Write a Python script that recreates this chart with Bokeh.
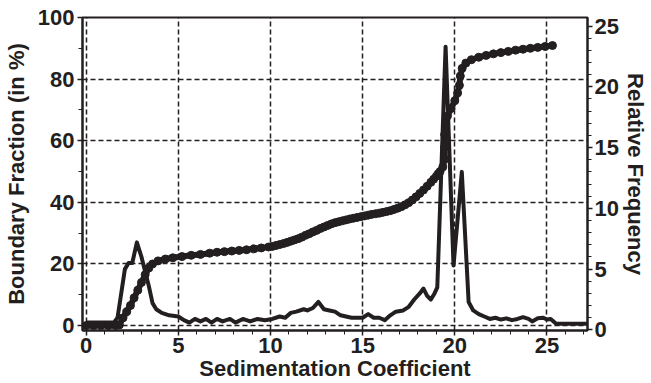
from bokeh.plotting import figure
from bokeh.models import Range1d, LinearAxis, FixedTicker
from bokeh.embed import file_html
from bokeh.resources import INLINE

# Boundary fraction (left axis, %)
bf_x = [0.0, 0.4, 0.8, 1.2, 1.6, 1.8, 2.0, 2.2, 2.4, 2.6, 2.8, 3.0, 3.2, 3.4, 3.6, 3.9,
        4.3, 4.7, 5.2, 5.7, 6.2, 6.7, 7.1, 7.5, 7.9, 8.3, 8.7, 9.1, 9.5, 9.9, 10.1, 10.3,
        10.5, 10.7, 10.9, 11.1, 11.3, 11.5, 11.7, 11.9, 12.1, 12.3, 12.5, 12.7, 12.9, 13.1,
        13.3, 13.5, 13.7, 13.9, 14.1, 14.3, 14.5, 14.7, 14.9, 15.1, 15.3, 15.5, 15.7, 15.9,
        16.1, 16.3, 16.5, 16.7, 16.9, 17.1, 17.3, 17.5, 17.7, 17.9, 18.1, 18.3, 18.5, 18.7,
        18.85, 19.0, 19.1, 19.2, 19.35, 19.45, 19.45, 19.45, 19.5, 19.6, 19.8, 20.0, 20.15,
        20.25, 20.3, 20.4, 20.6, 20.9, 21.3, 21.7, 22.1, 22.5, 22.9, 23.3, 23.7, 24.1, 24.5,
        24.9, 25.3]
bf_y = [0.0, 0.0, 0.0, 0.0, 0.0, 0.2, 2.5, 4.5, 6.5, 9.0, 11.5, 14.0, 16.5, 18.7, 20.0, 21.0,
        21.6, 22.0, 22.4, 22.8, 23.1, 23.5, 23.8, 24.0, 24.2, 24.4, 24.6, 24.9, 25.2, 25.5, 25.7, 26.0,
        26.3, 26.6, 27.0, 27.4, 27.8, 28.2, 28.7, 29.3, 29.8, 30.4, 30.9, 31.5, 32.0, 32.5,
        33.0, 33.4, 33.7, 34.0, 34.3, 34.6, 34.85, 35.1, 35.35, 35.6, 35.85, 36.1, 36.3, 36.5,
        36.75, 37.0, 37.3, 37.7, 38.1, 38.6, 39.2, 39.9, 40.8, 41.8, 42.9, 44.0, 45.2, 46.5,
        47.5, 48.5, 49.3, 50.0, 51.5, 54.0, 58.0, 62.0, 66.0, 68.0, 70.5, 73.0, 75.5,
        78.0, 81.0, 83.5, 85.2, 86.3, 87.1, 87.7, 88.2, 88.6, 89.0, 89.4, 89.7, 90.0, 90.3,
        90.6, 90.9]

# Relative frequency (right axis)
rf_x = [0.0, 1.5, 1.7, 1.9, 2.1, 2.3, 2.5, 2.75, 3.0, 3.2, 3.4, 3.6, 3.8, 4.1, 4.5, 5.0,
        5.3, 5.6, 5.9, 6.2, 6.5, 6.8, 7.1, 7.4, 7.8, 8.1, 8.5, 8.9, 9.3, 9.7, 10.1, 10.5,
        10.8, 11.1, 11.4, 11.8, 12.0, 12.3, 12.6, 12.9, 13.2, 13.5, 13.8, 14.1, 14.4, 14.7,
        15.0, 15.3, 15.6, 15.9, 16.2, 16.5, 16.8, 17.2, 17.5, 17.8, 18.1, 18.3, 18.5, 18.7,
        18.9, 19.05, 19.5, 19.93, 20.38, 20.75, 21.0, 21.3, 21.6, 21.9, 22.2, 22.5, 22.8,
        23.1, 23.4, 23.7, 24.0, 24.2, 24.5, 24.8, 25.0, 25.2, 25.5, 27.3]
rf_y = [0.6, 0.6, 1.0, 3.0, 5.0, 5.5, 5.5, 7.2, 6.0, 4.8, 3.6, 2.2, 1.7, 1.4, 1.2, 1.1,
        0.8, 0.6, 0.9, 0.7, 0.9, 0.6, 0.9, 0.7, 0.9, 0.6, 0.9, 0.7, 0.9, 0.8, 0.9, 1.1,
        1.0, 1.4, 1.5, 1.7, 1.6, 1.8, 2.3, 1.7, 1.6, 1.5, 1.2, 1.1, 1.0, 1.0,
        1.0, 1.3, 1.0, 1.0, 0.8, 1.2, 1.5, 1.6, 1.9, 2.5, 3.0, 3.4, 2.8, 2.5,
        3.0, 3.5, 23.3, 5.3, 13.0, 2.3, 1.6, 1.3, 1.1, 0.9, 1.0, 0.85, 0.95,
        0.8, 0.9, 1.05, 0.9, 0.7, 0.95, 1.0, 0.85, 0.9, 0.5, 0.5]

x_ticks = [0, 5, 10, 15, 20, 25]
left_ticks = [0, 20, 40, 60, 80, 100]
right_ticks = [0, 5, 10, 15, 20, 25]

INK = "#231f20"
FONT = "Liberation Sans"

p = figure(width=651, height=383, output_backend="svg", toolbar_location=None,
           x_range=Range1d(-0.2, 27.2), y_range=Range1d(-1.6, 100),
           min_border_left=80, min_border_right=64, min_border_top=17, min_border_bottom=51)
p.extra_y_ranges = {"freq": Range1d(-0.05, 25.7)}

p.outline_line_color = INK
p.outline_line_width = 2
p.background_fill_color = "white"
p.border_fill_color = "white"

def style_axis(ax, label):
    ax.axis_label = label
    ax.axis_label_text_font = FONT
    ax.axis_label_text_font_style = "bold"
    ax.axis_label_text_font_size = "22px"
    ax.axis_label_text_color = INK
    ax.major_label_text_font = FONT
    ax.major_label_text_font_style = "bold"
    ax.major_label_text_font_size = "22px"
    ax.major_label_text_color = INK
    ax.axis_line_color = INK
    ax.axis_line_width = 2
    ax.major_tick_line_color = INK
    ax.minor_tick_line_color = INK
    ax.major_tick_line_width = 1.5
    ax.minor_tick_line_width = 1
    ax.major_tick_in = 0
    ax.minor_tick_in = 0
    ax.major_tick_out = 5
    ax.minor_tick_out = 4

xa = p.xaxis[0]
style_axis(xa, "Sedimentation Coefficient")
xa.ticker = FixedTicker(ticks=x_ticks, minor_ticks=list(range(0, 28)))
xa.major_label_standoff = 2
xa.axis_label_standoff = 0

ya = p.yaxis[0]
style_axis(ya, "Boundary Fraction (in %)")
ya.ticker = FixedTicker(ticks=left_ticks, minor_ticks=[10, 30, 50, 70, 90])
ya.major_label_standoff = 3
ya.axis_label_standoff = 6

ra = LinearAxis(y_range_name="freq")
style_axis(ra, "Relative Frequency")
ra.ticker = FixedTicker(ticks=right_ticks, minor_ticks=list(range(0, 26)))
ra.major_label_standoff = 2
ra.axis_label_standoff = 1
p.add_layout(ra, "right")

for g in (p.xgrid[0], p.ygrid[0]):
    g.grid_line_color = INK
    g.grid_line_width = 1.5
    g.grid_line_dash = "5 3"
p.xgrid[0].ticker = FixedTicker(ticks=x_ticks)
p.ygrid[0].ticker = FixedTicker(ticks=left_ticks)

p.line(rf_x, rf_y, y_range_name="freq", line_color=INK, line_width=4, line_join="round")
p.line(bf_x, bf_y, line_color=INK, line_width=6, line_join="round")
p.scatter(bf_x, bf_y, marker="circle", size=8, fill_color=INK, line_color=INK)

open("out.html", "w").write(file_html(p, INLINE))
